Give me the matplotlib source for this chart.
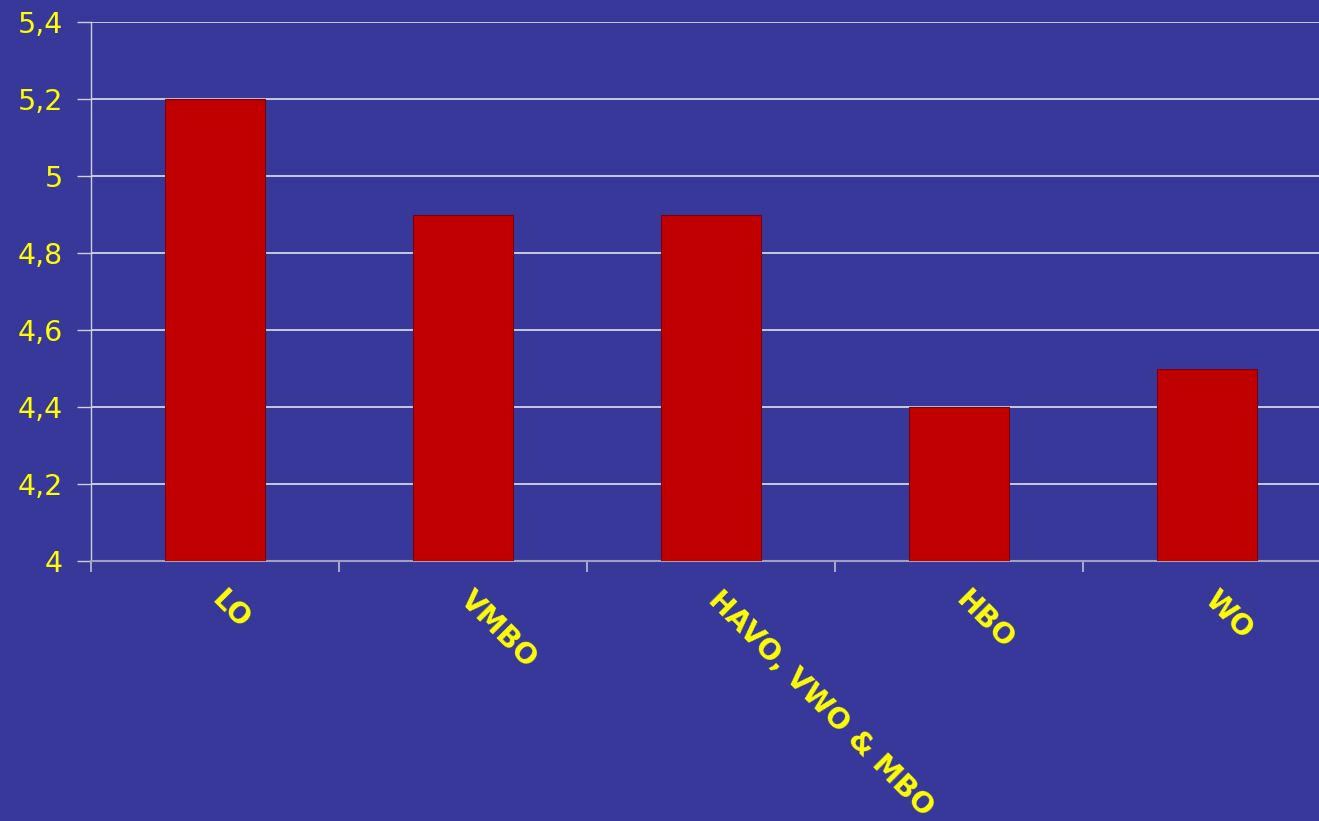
import matplotlib.pyplot as plt
import numpy as np

categories = ['LO', 'VMBO', 'HAVO, VWO & MBO', 'HBO', 'WO']
values = [5.2, 4.9, 4.9, 4.4, 4.5]
yticks = [4, 4.2, 4.4, 4.6, 4.8, 5, 5.2, 5.4]
ytick_labels = ['4', '4,2', '4,4', '4,6', '4,8', '5', '5,2', '5,4']

bg = '#37389a'
yellow = '#ffff00'

fig = plt.figure(figsize=(13.19, 8.21), dpi=100, facecolor=bg)
# axes runs past the right edge of the picture, like the original slide
ax = fig.add_axes([91 / 1319, (821 - 561) / 821, 1240 / 1319, (561 - 22) / 821])
ax.set_facecolor(bg)

x = np.arange(len(categories))
ax.bar(x, values, width=0.4, bottom=0, color='#c00000', edgecolor='#7a0010', linewidth=0.8, zorder=3)

ax.set_xlim(-0.5, len(categories) - 0.5)
ax.set_ylim(4, 5.4)
ax.set_yticks(yticks)
ax.set_yticklabels(ytick_labels)
ax.grid(axis='y', color='#d4d4e4', linewidth=1.3, zorder=0)

for s in ['top', 'right']:
    ax.spines[s].set_visible(False)
ax.spines['left'].set_color('#d0d0e0')
ax.spines['bottom'].set_color('#a0a0b8')
ax.spines['left'].set_linewidth(1.0)
ax.spines['bottom'].set_linewidth(1.5)

ax.tick_params(axis='y', colors='#d0d0e0', length=10, width=1, pad=10,
               labelcolor=yellow, labelsize=20.5)
# category boundaries carry the x tick marks
ax.set_xticks(np.arange(-0.5, len(categories), 1.0))
ax.set_xticklabels([])
ax.tick_params(axis='x', colors='#c0c0d0', length=8, width=1.2, direction='out')

for i, c in enumerate(categories):
    ax.annotate(c, xy=(i, 4), xycoords='data', xytext=(1, -25), textcoords='offset points',
                rotation=-45, rotation_mode='anchor', ha='left', va='center',
                color=yellow, fontsize=20.5, fontweight='bold', annotation_clip=False)

fig.savefig('out.png', dpi=100, facecolor=bg)
